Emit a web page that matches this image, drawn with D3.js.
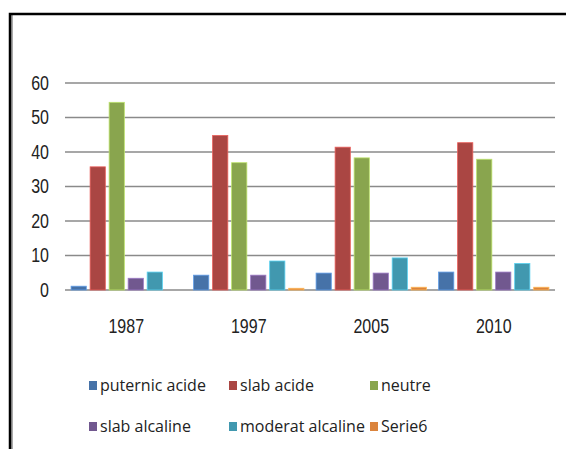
<!DOCTYPE html>
<html>
<head>
<meta charset="utf-8">
<script src="https://cdn.jsdelivr.net/npm/d3@7"></script>
<style>
  body { margin: 0; background: #fff; }
  .axisText { font-family: "Liberation Sans", Arial, sans-serif; font-size: 19.5px; fill: #222; }
  .legendText { font-family: "Open Sans", sans-serif; font-size: 16px; fill: #222; }
</style>
</head>
<body>
<div id="chart"></div>
<script>
// Chart data
var years = ["1987", "1997", "2005", "2010"];
var seriesNames = ["puternic acide", "slab acide", "neutre", "slab alcaline", "moderat alcaline", "Serie6"];
var puternicAcide = [1.1, 4.3, 4.9, 5.2];
var slabAcide = [35.7, 44.8, 41.4, 42.7];
var neutre = [54.4, 36.9, 38.3, 37.9];
var slabAlcaline = [3.4, 4.3, 4.9, 5.2];
var moderatAlcaline = [5.2, 8.4, 9.3, 7.7];
var serie6 = [0, 0.5, 0.8, 0.8];
var yTicks = [0, 10, 20, 30, 40, 50, 60];

var seriesValues = [puternicAcide, slabAcide, neutre, slabAlcaline, moderatAlcaline, serie6];
var colors = ["#4672a8", "#aa4643", "#89a54e", "#71588f", "#4198af", "#db843d"];

// SVG area
var svgWidth = 566;
var svgHeight = 449;

var svg = d3.select("#chart")
  .append("svg")
  .attr("width", svgWidth)
  .attr("height", svgHeight);

// Frame of the chart object (top and left edges visible)
svg.append("line")
  .attr("x1", 12).attr("x2", 12)
  .attr("y1", 15).attr("y2", svgHeight)
  .attr("stroke", "#aaa")
  .attr("stroke-width", 2);
svg.append("path")
  .attr("d", `M10,${svgHeight} V14 H${svgWidth}`)
  .attr("fill", "none")
  .attr("stroke", "#000")
  .attr("stroke-width", 2.5);

// Scales
var x0 = d3.scaleBand()
  .domain(years)
  .range([65, 555]);

var x1 = d3.scaleBand()
  .domain(seriesNames)
  .range([0, x0.bandwidth()])
  .paddingInner(0.2)
  .paddingOuter(0.32);

var y = d3.scaleLinear()
  .domain([0, 60])
  .range([290, 83]);

// Gridlines
svg.append("g")
  .selectAll("line")
  .data(yTicks)
  .enter()
  .append("line")
  .attr("x1", 65)
  .attr("x2", 555)
  .attr("y1", d => y(d))
  .attr("y2", d => y(d))
  .attr("stroke", "#8a8a8a")
  .attr("stroke-width", 1.5);

// Y axis labels (narrowed, the original font is condensed)
var leftAxis = d3.axisLeft(y).tickValues(yTicks).tickSize(0).tickPadding(0);
var yAxis = svg.append("g")
  .attr("transform", "translate(49,0)")
  .call(leftAxis);
yAxis.select(".domain").remove();
yAxis.selectAll("text")
  .attr("class", "axisText")
  .attr("font-family", null)
  .attr("font-size", null)
  .attr("transform", "scale(0.82,1)");

// Bars
var groups = svg.append("g")
  .selectAll("g")
  .data(years)
  .enter()
  .append("g")
  .attr("transform", d => `translate(${x0(d)},0)`);

groups.selectAll("rect")
  .data((d, i) => seriesNames.map((s, j) => ({ name: s, value: seriesValues[j][i], color: colors[j] })))
  .enter()
  .append("rect")
  .attr("x", d => x1(d.name))
  .attr("y", d => y(d.value))
  .attr("width", x1.bandwidth())
  .attr("height", d => y(0) - y(d.value))
  .attr("fill", d => d.color)
  .attr("stroke", d => d3.color(d.color).brighter(0.9))
  .attr("stroke-width", 0.8);

// X axis labels
var bottomAxis = d3.axisBottom(x0).tickSize(0).tickPadding(0);
var xAxis = svg.append("g")
  .attr("transform", "translate(0,319)")
  .call(bottomAxis);
xAxis.select(".domain").remove();
xAxis.selectAll("text")
  .attr("class", "axisText")
  .attr("font-family", null)
  .attr("font-size", null)
  .attr("transform", "scale(0.82,1)");

// Legend
var legendX = [89, 229, 370];
var legendY = [385, 426];

var legend = svg.append("g")
  .selectAll("g")
  .data(seriesNames)
  .enter()
  .append("g")
  .attr("transform", (d, i) => `translate(${legendX[i % 3]},${legendY[Math.floor(i / 3)]})`);

legend.append("rect")
  .attr("x", 0)
  .attr("y", -4)
  .attr("width", 8)
  .attr("height", 9)
  .attr("fill", (d, i) => colors[i]);

legend.append("text")
  .attr("class", "legendText")
  .attr("x", 11)
  .attr("y", 0)
  .attr("dy", "0.36em")
  .text(d => d);
</script>
</body>
</html>
